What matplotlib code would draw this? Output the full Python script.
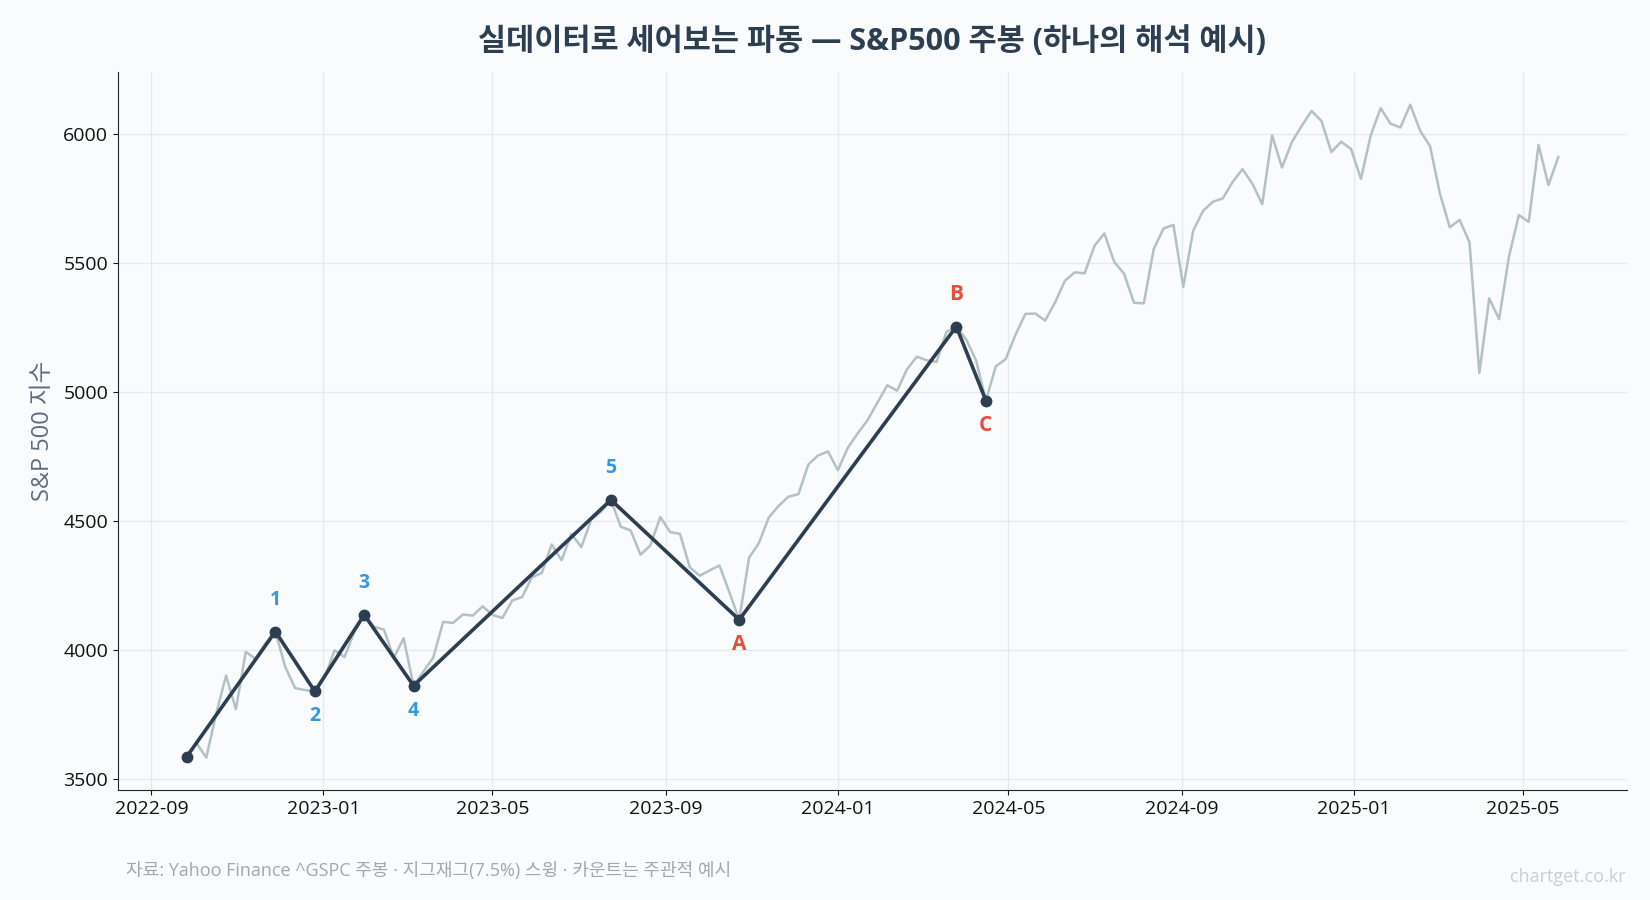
import pandas as pd
import numpy as np
import matplotlib
matplotlib.use('Agg')
import matplotlib.pyplot as plt
import matplotlib.dates as mdates

plt.rcParams['font.family'] = ['Open Sans', 'Noto Sans CJK KR', 'DejaVu Sans']

# S&P500 weekly close (week start Monday)
start_week = '2022-09-26'
closes = [
    3585.62, 3639.66, 3583.07, 3752.75, 3901.06, 3770.55, 3992.93, 3965.34, 4026.12, 4071.70,
    3934.38, 3852.36, 3844.82, 3839.50, 3895.08, 3999.09, 3972.61, 4070.56, 4136.48, 4090.46,
    4079.09, 3970.04, 4045.64, 3861.59, 3916.64, 3970.99, 4109.31, 4105.02, 4137.64, 4133.52,
    4169.48, 4136.25, 4124.08, 4191.98, 4205.45, 4282.37, 4298.86, 4409.59, 4348.33, 4450.38,
    4398.95, 4505.42, 4536.34, 4582.23, 4478.03, 4464.05, 4369.71, 4405.71, 4515.77, 4457.49,
    4450.32, 4320.06, 4288.05, 4308.50, 4327.78, 4224.16, 4117.37, 4358.34, 4415.24, 4514.02,
    4559.34, 4594.63, 4604.37, 4719.19, 4754.63, 4769.83, 4697.24, 4783.83, 4839.81, 4890.97,
    4958.61, 5026.61, 5005.57, 5088.80, 5137.08, 5123.69, 5117.09, 5234.18, 5254.35, 5204.34,
    5123.41, 4967.23, 5099.96, 5127.79, 5222.68, 5303.27, 5304.72, 5277.51, 5346.99, 5431.60,
    5464.62, 5460.48, 5567.19, 5615.35, 5505.00, 5459.10, 5346.56, 5344.16, 5554.25, 5634.61,
    5648.40, 5408.42, 5626.02, 5702.55, 5738.17, 5751.07, 5815.03, 5864.67, 5808.12, 5728.80,
    5995.54, 5870.62, 5969.34, 6032.38, 6090.27, 6051.09, 5930.85, 5970.84, 5942.47, 5827.04,
    5996.66, 6101.24, 6040.53, 6025.99, 6114.63, 6013.13, 5954.50, 5770.20, 5638.94, 5667.56,
    5580.94, 5074.08, 5363.36, 5282.70, 5525.21, 5686.67, 5659.91, 5958.38, 5802.82, 5911.69,
]

# zigzag pivots and wave labels
pivot_dates = ['2022-09-26', '2022-11-28', '2022-12-26', '2023-01-30', '2023-03-06',
               '2023-07-24', '2023-10-23', '2024-03-25', '2024-04-15']
pivot_labels = ['', '1', '2', '3', '4', '5', 'A', 'B', 'C']
pivot_kind = ['low', 'high', 'low', 'high', 'low', 'high', 'low', 'high', 'low']

dates = pd.date_range(start_week, periods=len(closes), freq='7D')
s = pd.Series(closes, index=dates)
pv = s.loc[pd.to_datetime(pivot_dates)]

fig = plt.figure(figsize=(16.5, 9), dpi=100, facecolor='#f9fbfd')
ax = fig.add_axes([0.0715, 0.122, 0.9145, 0.798])
ax.set_facecolor('#f9fbfd')

ax.plot(s.index, s.values, color='#b3c1c1', lw=1.8, zorder=2)
ax.plot(pv.index, pv.values, color='#2c3e50', lw=2.6, marker='o', ms=7.5, zorder=3)

for d, v, lab, kind in zip(pv.index, pv.values, pivot_labels, pivot_kind):
    if not lab:
        continue
    color = '#3498db' if lab.isdigit() else '#e74c3c'
    size = 14 if lab.isdigit() else 15
    dy = 23 if kind == 'high' else -18
    ax.annotate(lab, (d, v), xytext=(0, dy), textcoords='offset points',
                ha='center', va='center', color=color, fontsize=size,
                fontweight='bold', zorder=4)

ax.xaxis.set_major_locator(mdates.MonthLocator(bymonth=[1, 5, 9]))
ax.xaxis.set_major_formatter(mdates.DateFormatter('%Y-%m'))
ax.grid(True, color='#e3e6ea', lw=1, alpha=0.8)
ax.set_axisbelow(True)
for side in ['top', 'right']:
    ax.spines[side].set_visible(False)
ax.spines['left'].set_color('#222222')
ax.spines['bottom'].set_color('#222222')
ax.tick_params(labelsize=14, colors='#111111')
ax.set_ylabel('S&P 500 지수', fontsize=17, color='#5d6d7e', labelpad=6)

ax.set_title('실데이터로 세어보는 파동 — S&P500 주봉 (하나의 해석 예시)',
             fontsize=22, fontweight='bold', color='#2c3e50', pad=16)

fig.text(0.0765, 0.032, '자료: Yahoo Finance ^GSPC 주봉 · 지그재그(7.5%) 스윙 · 카운트는 주관적 예시',
         fontsize=13, color='#a0a8b2', ha='left', va='center')
fig.text(0.985, 0.026, 'chartget.co.kr', fontsize=13, color='#c9ced4', ha='right', va='center')

fig.savefig('out.png', dpi=100, facecolor=fig.get_facecolor())
